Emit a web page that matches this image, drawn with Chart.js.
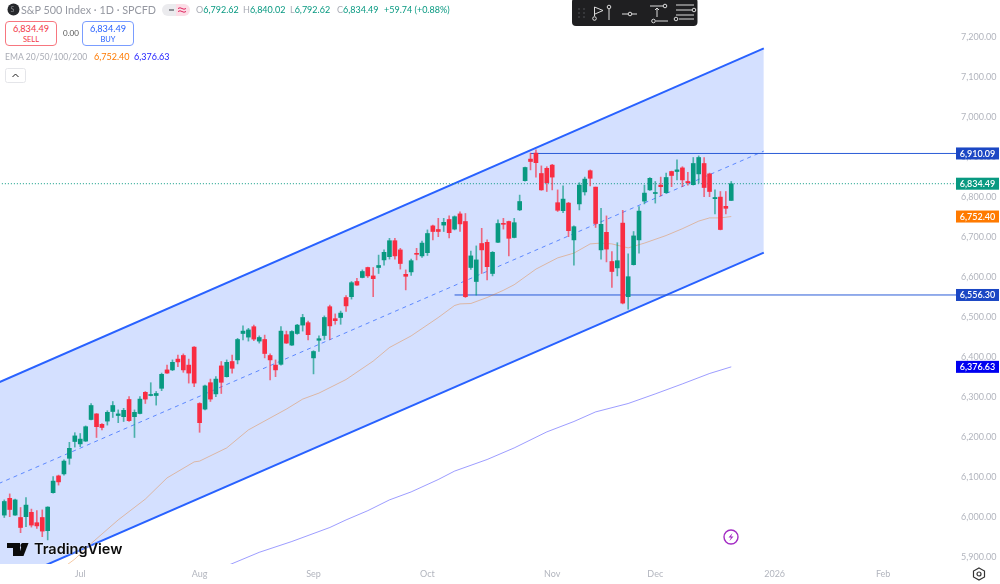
<!DOCTYPE html>
<html>
<head>
<meta charset="utf-8">
<title>S&amp;P 500 Index</title>
<script src="https://cdn.jsdelivr.net/npm/chart.js@4"></script>
<style>
  html, body { margin: 0; padding: 0; background: #fff; }
  #wrap { position: relative; width: 1000px; height: 584px; overflow: hidden; font-family: Lato, sans-serif; }
  #chart { position: absolute; left: 0; top: 0; }
  .t { position: absolute; white-space: nowrap; line-height: 12px; }
  .box { position: absolute; top: 21px; width: 50px; height: 23px; border-radius: 4px; background: #fff; text-align: center; }
  .box b { display: block; font-weight: 400; font-size: 9.2px; line-height: 12px; margin-top: 1px; }
  .box i { display: block; font-style: normal; font-size: 7.5px; line-height: 9px; }
  .g { color: #089981; }
  .m { color: #a9acb5; }
  svg { position: absolute; overflow: visible; }
</style>
</head>
<body>
<div id="wrap">
  <canvas id="chart" width="1000" height="584"></canvas>

  <svg style="left:7px;top:3px" width="13" height="13"><circle cx="6.5" cy="6.5" r="6" fill="#26282c"/></svg>
  <span class="t" style="left:10.5px;top:3px;font-size:7px;color:#8a8c92">S</span>
  <span class="t m" style="left:21px;top:4px;font-size:10.8px;color:#9598a1">S&amp;P 500 Index · 1D · SPCFD</span>
  <svg style="left:162px;top:4px" width="28" height="12">
    <path d="M6 0H14V12H6A6 6 0 0 1 6 0Z" fill="#ebebee"/>
    <path d="M14 0H22A6 6 0 0 1 22 12H14Z" fill="#fbdde6"/>
    <path d="M7 6H12" stroke="#777a80" stroke-width="1.6"/>
    <path d="M16 4.5Q18 3 20 4.5T24 4.5M16 7.5Q18 6 20 7.5T24 7.5" fill="none" stroke="#e0245e" stroke-width="1"/>
  </svg>
  <span class="t m" style="left:196px;top:4px;font-size:9px">O<span class="g">6,792.62</span></span>
  <span class="t m" style="left:243px;top:4px;font-size:9px">H<span class="g">6,840.02</span></span>
  <span class="t m" style="left:290px;top:4px;font-size:9px">L<span class="g">6,792.62</span></span>
  <span class="t m" style="left:337px;top:4px;font-size:9px">C<span class="g">6,834.49</span></span>
  <span class="t g" style="left:384px;top:4px;font-size:9px">+59.74 (+0.88%)</span>

  <div class="box" style="left:5px;border:1px solid #f7767f;color:#f23645"><b>6,834.49</b><i>SELL</i></div>
  <span class="t" style="left:63px;top:27px;font-size:8px;color:#555">0.00</span>
  <div class="box" style="left:82px;border:1px solid #7a9dff;color:#2962ff"><b>6,834.49</b><i>BUY</i></div>

  <span class="t m" style="left:5px;top:51px;font-size:8.6px">EMA 20/50/100/200</span>
  <span class="t" style="left:94px;top:51px;font-size:9px;color:#ff7a00">6,752.40</span>
  <span class="t" style="left:134px;top:51px;font-size:9px;color:#1a1aff">6,376.63</span>

  <svg style="left:5px;top:68px" width="21" height="15">
    <rect x="0.5" y="0.5" width="20" height="14" rx="2" fill="#fff" stroke="#e4e5e9"/>
    <path d="M7.5 9L10.5 6L13.5 9" fill="none" stroke="#222" stroke-width="1"/>
  </svg>

  <svg style="left:572px;top:0" width="126" height="27">
    <rect x="0" y="-2" width="125.5" height="28" rx="4" fill="#1f1f21"/>
    <g fill="#55575c">
      <circle cx="7" cy="9" r="0.8"/><circle cx="12" cy="9" r="0.8"/><circle cx="7" cy="13" r="0.8"/>
      <circle cx="12" cy="13" r="0.8"/><circle cx="7" cy="17" r="0.8"/><circle cx="12" cy="17" r="0.8"/>
    </g>
    <g fill="none" stroke="#dcdcdc" stroke-width="1">
      <path d="M22.5 16V7L31 10.5L23 14"/><circle cx="22.5" cy="18.5" r="1.8"/>
      <circle cx="37" cy="7" r="1.8"/><path d="M37 9V20"/>
      <path d="M50 14H56M60 14H65"/><circle cx="58" cy="14" r="1.8"/>
      <path d="M78 6H91"/><circle cx="93" cy="6" r="1.8"/><path d="M85 8V17M83 10L85 8L87 10"/>
      <path d="M96 21H84"/><circle cx="81.5" cy="21" r="1.8"/>
      <path d="M104 5H122M104 10H120"/><circle cx="122" cy="10" r="1.8"/>
      <path d="M104 15H122M107 19H122"/><circle cx="104" cy="19" r="1.8"/>
    </g>
  </svg>

  <svg style="left:7px;top:543px" width="22" height="13">
    <path d="M0 0H13V13H6V5H0Z" fill="#0b0b0b"/>
    <circle cx="16" cy="2.5" r="2.5" fill="#0b0b0b"/>
    <path d="M16 13L21 0H15L11 13Z" fill="#0b0b0b" transform="translate(0.5 0)"/>
  </svg>
  <span class="t" style="left:34px;top:542px;font-family:Inter,sans-serif;font-weight:600;font-size:14.5px;line-height:14px;color:#0b0b0b;text-shadow:0 0 2px #fff">TradingView</span>

  <svg style="left:723px;top:529px" width="16" height="16">
    <circle cx="8" cy="8" r="7" fill="#fff" stroke="#a32bc4" stroke-width="1.4"/>
    <path d="M9.5 4L5.5 8.5H8L6.5 12L10.5 7.5H8Z" fill="#a32bc4"/>
  </svg>
  <svg style="left:972px;top:567px" width="14" height="14">
    <path d="M7 1L12.5 4V10L7 13L1.5 10V4Z" fill="none" stroke="#333" stroke-width="1.2"/>
    <circle cx="7" cy="7" r="2" fill="none" stroke="#333" stroke-width="1.2"/>
  </svg>
</div>

<script>
// daily candles (index 0 = left edge of the chart)
const opens = [6006,6048,6006,6000,6002,6013,5987,6000,5967,6062,6104,6109,6148,6190,6184,6191,6245,6259,6233,6241,6265,6255,6252,6295,6252,6260,6313,6305,6305,6323,6369,6369,6396,6405,6381,6426,6285,6271,6337,6309,6379,6352,6390,6394,6460,6451,6477,6441,6445,6405,6381,6383,6457,6431,6460,6481,6487,6399,6443,6455,6527,6497,6500,6550,6552,6590,6600,6625,6604,6625,6644,6652,6692,6669,6608,6614,6660,6654,6662,6729,6720,6731,6745,6721,6759,6740,6625,6590,6685,6688,6610,6688,6735,6740,6700,6769,6842,6896,6911,6860,6873,6881,6787,6767,6786,6694,6784,6814,6867,6826,6669,6713,6640,6624,6736,6552,6632,6694,6791,6819,6810,6831,6812,6865,6865,6874,6840,6832,6859,6885,6859,6797,6801,6778,6792.62];
const highs = [6044,6059,6046,6025,6050,6021,6017,6019,6027,6102,6106,6144,6188,6212,6210,6229,6285,6260,6235,6267,6290,6269,6273,6302,6269,6302,6315,6337,6315,6361,6381,6394,6406,6409,6396,6427,6287,6331,6346,6352,6390,6394,6406,6448,6479,6473,6481,6454,6456,6409,6394,6477,6466,6467,6483,6508,6491,6417,6454,6504,6531,6509,6516,6555,6590,6598,6619,6626,6625,6656,6669,6698,6698,6673,6619,6646,6673,6691,6719,6731,6748,6748,6754,6754,6764,6760,6666,6679,6723,6694,6665,6744,6748,6741,6748,6806,6876,6911,6919,6879,6877,6883,6819,6829,6788,6729,6837,6851,6869,6826,6773,6754,6665,6687,6768,6659,6715,6777,6831,6850,6840,6851,6861,6866,6894,6877,6863,6900,6904,6900,6861,6819,6815,6815,6840.02];
const lows = [6000,6002,6005,5962,5977,5976,5973,5952,5944,6061,6081,6106,6133,6176,6177,6190,6244,6200,6219,6231,6250,6237,6240,6240,6200,6259,6285,6304,6281,6317,6360,6367,6377,6363,6336,6327,6213,6269,6290,6302,6310,6351,6361,6384,6444,6441,6442,6436,6399,6344,6352,6381,6435,6430,6458,6466,6444,6359,6415,6445,6445,6483,6483,6515,6546,6580,6599,6600,6552,6610,6631,6646,6646,6621,6569,6605,6644,6650,6655,6694,6702,6715,6699,6719,6715,6550,6620,6556,6610,6594,6604,6687,6721,6654,6699,6767,6841,6869,6851,6818,6815,6819,6765,6762,6702,6631,6769,6806,6829,6725,6646,6639,6575,6604,6534,6521,6631,6661,6784,6818,6786,6804,6810,6827,6844,6827,6831,6831,6836,6802,6802,6759,6719,6759,6792.62];
const closes = [6040,6020,6044,5975,6031,5981,5979,5966,6026,6091,6089,6141,6173,6204,6196,6227,6280,6227,6225,6263,6280,6259,6268,6242,6263,6296,6296,6306,6310,6358,6361,6388,6389,6369,6361,6336,6237,6329,6296,6346,6338,6388,6373,6445,6466,6469,6446,6450,6410,6394,6369,6466,6436,6465,6481,6500,6457,6415,6447,6500,6479,6492,6511,6529,6587,6581,6615,6604,6597,6630,6663,6692,6654,6635,6603,6642,6658,6686,6710,6715,6715,6738,6712,6752,6734,6552,6654,6644,6669,6627,6663,6735,6733,6698,6737,6790,6875,6890,6887,6819,6837,6851,6768,6796,6717,6727,6831,6846,6848,6735,6733,6671,6615,6642,6536,6602,6704,6766,6811,6848,6812,6827,6850,6855,6869,6844,6837,6885,6900,6825,6815,6800,6720,6773,6834.49];

// moving averages at a few candles
const ema50Index = [11,13,16,21,26,30,35,36,41,45,52,55,58,63,68,71,75,80,83,84,86,89,92,94,98,102,105,108,110,112,115,118,122,125,128,130,132,134];
const ema50Values = [5876,5896,5935,5994,6046,6099,6139,6141,6174,6219,6271,6296,6311,6345,6391,6425,6454,6500,6530,6534,6535,6550,6568,6582,6621,6649,6661,6684,6686,6684,6674,6686,6705,6722,6741,6749,6749,6752.4];
const ema200Index = [41,47,53,60,63,67,71,75,80,83,89,94,100,105,109,115,120,125,130,134];
const ema200Values = [5879,5913,5940,5975,5994,6017,6044,6064,6095,6116,6145,6174,6214,6240,6264,6285,6309,6334,6360,6376.63];

// parallel channel and horizontal levels
const channelIndex = [-1,140];
const channelUpper = [6338,7173];
const channelMiddle = [6085,6916];
const channelLower = [5830,6662];
const resistance = 6910.09;
const support = 6556.30;
const lastPrice = 6834.49;

const priceTicks = [5900,6000,6100,6200,6300,6400,6500,6600,6700,6800,6900,7000,7100,7200];
const timeTickIndex = [14,36,57,78,101,120,142,162];
const timeTickLabels = ['Jul','Aug','Sep','Oct','Nov','Dec','2026','Feb'];

const priceTags = [
  { value: 6910.09, color: '#1b47c4' },
  { value: 6834.49, color: '#089981' },
  { value: 6752.40, color: '#ff7a00' },
  { value: 6556.30, color: '#1b47c4' },
  { value: 6376.63, color: '#0000f0' },
];

const UP = '#089981';
const DOWN = '#f92d42';
const FONT = 'Lato, sans-serif';

function fmt(v) {
  return v.toLocaleString('en-US', { minimumFractionDigits: 2, maximumFractionDigits: 2 });
}

function toPoints(xs, ys) {
  return xs.map((x, i) => ({ x, y: ys[i] }));
}

function lineSet(data, color, extra = {}) {
  return { type: 'line', data, borderColor: color, borderWidth: 1, pointRadius: 0, tension: 0, fill: false, ...extra };
}

const candleColors = closes.map((c, i) => (c >= opens[i] ? UP : DOWN));

// coloured price boxes on the right axis
const priceTagPlugin = {
  id: 'priceTags',
  afterDraw(chart) {
    const { ctx, scales } = chart;
    const left = chart.chartArea.right;
    ctx.save();
    ctx.font = '600 9px ' + FONT;
    ctx.textBaseline = 'middle';
    ctx.textAlign = 'center';
    priceTags.forEach((tag) => {
      const y = scales.y.getPixelForValue(tag.value);
      ctx.fillStyle = tag.color;
      ctx.fillRect(left, y - 6, 43, 12);
      ctx.fillStyle = '#fff';
      ctx.fillText(fmt(tag.value), left + 21.5, y + 0.5);
    });
    ctx.restore();
  },
};

// keep the plot flush with the canvas edges, like the original
function fitAxis(scale, size) {
  if (scale.isHorizontal()) {
    scale.height = size;
  } else {
    scale.width = size;
  }
  scale.paddingTop = 0;
  scale.paddingBottom = 0;
  scale.paddingLeft = 0;
  scale.paddingRight = 0;
}

new Chart(document.getElementById('chart'), {
  type: 'bar',
  data: {
    datasets: [
      lineSet(toPoints(channelIndex, channelLower), '#2962ff', { borderWidth: 2, order: 9 }),
      lineSet(toPoints(channelIndex, channelUpper), '#2962ff', {
        borderWidth: 2, order: 8, fill: 0, backgroundColor: 'rgba(41, 98, 255, 0.2)',
      }),
      lineSet(toPoints(channelIndex, channelMiddle), 'rgba(41, 98, 255, 0.7)', { borderDash: [4, 4], order: 7 }),
      lineSet(toPoints([-1, 176], [lastPrice, lastPrice]), '#089981', { borderDash: [1, 2], order: 7 }),
      lineSet(toPoints([97, 176], [resistance, resistance]), '#2a5bd7', { order: 6 }),
      lineSet(toPoints([83, 176], [support, support]), '#2a5bd7', { order: 6 }),
      lineSet(toPoints(ema50Index, ema50Values), 'rgba(230, 120, 30, 0.4)', { order: 5 }),
      lineSet(toPoints(ema200Index, ema200Values), 'rgba(60, 60, 255, 0.5)', { order: 5 }),
      {
        type: 'bar',
        data: toPoints(opens.map((_, i) => i), lows.map((l, i) => [l, highs[i]])),
        backgroundColor: candleColors.map((c) => c + 'aa'),
        barThickness: 1,
        grouped: false,
        order: 3,
      },
      {
        type: 'bar',
        data: toPoints(opens.map((_, i) => i), opens.map((o, i) => [o, closes[i]])),
        backgroundColor: candleColors,
        barThickness: 4,
        minBarLength: 1,
        grouped: false,
        order: 2,
      },
    ],
  },
  options: {
    responsive: false,
    animation: false,
    events: [],
    layout: { padding: 0 },
    plugins: { legend: { display: false }, tooltip: { enabled: false } },
    scales: {
      x: {
        type: 'linear',
        offset: false,
        min: -0.79,
        max: 175.43,
        grid: { display: false, drawTicks: false },
        border: { display: false },
        afterFit(scale) { fitAxis(scale, 20); },
        afterBuildTicks(scale) { scale.ticks = timeTickIndex.map((value) => ({ value })); },
        ticks: {
          autoSkip: false,
          maxRotation: 0,
          padding: 5,
          color: '#b2b5be',
          font: { family: FONT, size: 9 },
          callback: (v) => timeTickLabels[timeTickIndex.indexOf(v)],
        },
      },
      y: {
        position: 'right',
        min: 5883.75,
        max: 7293.75,
        grid: { display: false, drawTicks: false },
        border: { display: false },
        afterFit(scale) { fitAxis(scale, 44); },
        afterBuildTicks(scale) { scale.ticks = priceTicks.map((value) => ({ value })); },
        ticks: {
          padding: 5,
          color: '#b2b5be',
          font: { family: FONT, size: 9 },
          callback: (v) => fmt(v),
        },
      },
    },
  },
  plugins: [priceTagPlugin],
});
</script>
</body>
</html>
